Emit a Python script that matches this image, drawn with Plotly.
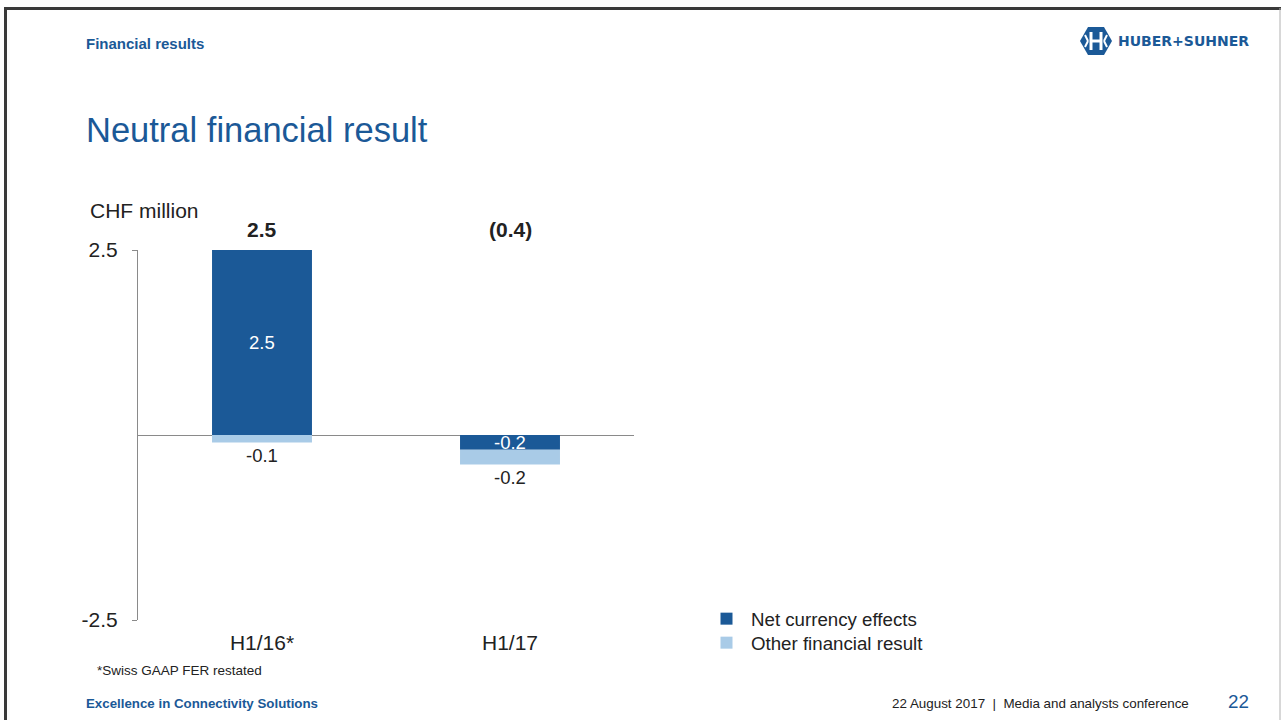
import plotly.graph_objects as go

# ---- data -------------------------------------------------------------
periods = ["H1/16*", "H1/17"]
net_currency = [2.5, -0.2]
other_financial = [-0.1, -0.2]
total_labels = ["2.5", "(0.4)"]
y_ticks = [-2.5, 2.5]
y_tick_labels = ["-2.5", "2.5"]
series_names = ["Net currency effects", "Other financial result"]

# ---- styling ----------------------------------------------------------
W, H = 1283, 720
DARK = "#1b5997"
LIGHT = "#a9cbe7"
TEXT = "#222222"
AXIS = "#8a8a8a"
FONT = "Liberation Sans, Arial, sans-serif"


def px(x):
    return x / W


def py(y):
    return 1 - y / H


fig = go.Figure()
fig.add_trace(go.Bar(
    x=periods, y=net_currency, name=series_names[0],
    marker=dict(color=DARK, line=dict(width=0)), width=0.403,
    hoverinfo="skip", legend="legend",
))
fig.add_trace(go.Bar(
    x=periods, y=other_financial, name=series_names[1],
    marker=dict(color=LIGHT, line=dict(width=0)), width=0.403,
    hoverinfo="skip", legend="legend2",
))

annotations = []


def fmt(v):
    return f"{v:.1f}"


# value labels: dark segments labelled inside, light segments below the stack
for i, cat in enumerate(periods):
    n = net_currency[i]
    o = other_financial[i]
    annotations.append(dict(
        x=cat, y=n / 2, xref="x", yref="y", text=fmt(n),
        font=dict(family=FONT, size=18.5, color="white"),
    ))
    bottom = min(n, 0) + o if o < 0 else o
    annotations.append(dict(
        x=cat, y=bottom, xref="x", yref="y", text=fmt(o),
        yshift=-13,
        font=dict(family=FONT, size=18.5, color=TEXT),
    ))
    annotations.append(dict(
        x=cat, y=py(229), xref="x", yref="paper", text=f"<b>{total_labels[i]}</b>",
        font=dict(family=FONT, size=21, color=TEXT),
    ))

# slide texts
annotations += [
    dict(x=px(84), y=py(43), text="<b>Financial results</b>", xanchor="left",
         font=dict(family=FONT, size=15, color=DARK)),
    dict(x=px(84), y=py(130), text="Neutral financial result", xanchor="left",
         font=dict(family=FONT, size=34.5, color=DARK)),
    dict(x=px(88), y=py(210), text="CHF million", xanchor="left",
         font=dict(family=FONT, size=21, color=TEXT)),
    dict(x=px(95), y=py(670), text="*Swiss GAAP FER restated", xanchor="left",
         font=dict(family=FONT, size=13.5, color=TEXT)),
    dict(x=px(84), y=py(703), text="<b>Excellence in Connectivity Solutions</b>",
         xanchor="left", font=dict(family=FONT, size=13.3, color=DARK)),
    dict(x=px(1191), y=py(703),
         text="22 August 2017  |  Media and analysts conference",
         xanchor="right", font=dict(family=FONT, size=13.4, color=TEXT)),
    dict(x=px(1251), y=py(701), text="22", xanchor="right",
         font=dict(family=FONT, size=18.8, color=DARK)),
    dict(x=px(1116), y=py(41), text="<b>HUBER+SUHNER</b>", xanchor="left",
         font=dict(family="DejaVu Sans", size=14, color=DARK)),
]
for a in annotations:
    a.setdefault("xref", "paper")
    a.setdefault("yref", "paper")
    a.setdefault("yanchor", "middle")
    a.setdefault("showarrow", False)


def pt(x, y):
    return f"{px(x)},{py(y)}"


shapes = [
    # slide frame
    dict(type="line", x0=px(5.5), x1=px(5.5), y0=py(7), y1=py(720),
         line=dict(color="#3a3a3a", width=3)),
    dict(type="line", x0=px(4), x1=px(1281), y0=py(8.5), y1=py(8.5),
         line=dict(color="#3a3a3a", width=3)),
    dict(type="line", x0=px(1280), x1=px(1280), y0=py(8), y1=py(720),
         line=dict(color="#b0b0b0", width=1)),
    # logo mark: hexagon with an H
    dict(type="path",
         path=f"M {pt(1080, 41)} L {pt(1088, 27)} L {pt(1104, 27)} L {pt(1112, 41)} "
              f"L {pt(1104, 55)} L {pt(1088, 55)} Z",
         fillcolor=DARK, line=dict(width=0)),
    dict(type="line", x0=px(1091), x1=px(1091), y0=py(32), y1=py(50),
         line=dict(color="white", width=3)),
    dict(type="line", x0=px(1101), x1=px(1101), y0=py(32), y1=py(50),
         line=dict(color="white", width=3)),
    dict(type="line", x0=px(1091), x1=px(1101), y0=py(41), y1=py(41),
         line=dict(color="white", width=3)),
    dict(type="line", x0=px(1085), x1=px(1088), y0=py(35), y1=py(41),
         line=dict(color="white", width=2)),
    dict(type="line", x0=px(1085), x1=px(1088), y0=py(47), y1=py(41),
         line=dict(color="white", width=2)),
    dict(type="line", x0=px(1107), x1=px(1104), y0=py(35), y1=py(41),
         line=dict(color="white", width=2)),
    dict(type="line", x0=px(1107), x1=px(1104), y0=py(47), y1=py(41),
         line=dict(color="white", width=2)),
]
for s in shapes:
    s["xref"] = "paper"
    s["yref"] = "paper"
    s["layer"] = "above"

legend_style = dict(
    xanchor="left", yanchor="middle",
    font=dict(family=FONT, size=18.7, color=TEXT),
    bgcolor="rgba(0,0,0,0)", borderwidth=0,
    itemwidth=39, itemclick=False, itemdoubleclick=False,
)

fig.update_layout(
    width=W, height=H,
    margin=dict(l=0, r=0, t=0, b=0, autoexpand=False),
    paper_bgcolor="white", plot_bgcolor="white",
    barmode="relative",
    font=dict(family=FONT, color=TEXT),
    hovermode=False,
    annotations=annotations,
    shapes=shapes,
    showlegend=True,
    legend=dict(x=px(702), y=py(619), **legend_style),
    legend2=dict(x=px(702), y=py(643), **legend_style),
    xaxis=dict(
        domain=[px(138), px(634)], range=[-0.5, 1.5], type="category",
        showgrid=False, zeroline=False, showline=False, ticks="",
        tickfont=dict(family=FONT, size=21, color=TEXT),
        ticklabelstandoff=8, automargin=False,
    ),
    yaxis=dict(
        domain=[py(620), py(250)], range=[-2.5, 2.5],
        tickvals=y_ticks, ticktext=y_tick_labels,
        showgrid=False, showline=True, linecolor=AXIS, linewidth=1,
        ticks="outside", ticklen=5, tickcolor=AXIS,
        zeroline=True, zerolinecolor=AXIS, zerolinewidth=1,
        tickfont=dict(family=FONT, size=21, color=TEXT),
        ticklabelstandoff=10, automargin=False,
    ),
)

fig.write_html("out.html")
